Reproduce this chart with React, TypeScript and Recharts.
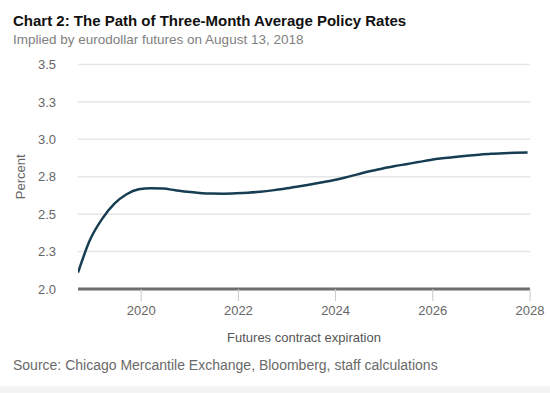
import React from "react";
import { LineChart, Line, XAxis, YAxis, CartesianGrid, Label } from "recharts";

// contract expiration (decimal year)
const expiry = [
  2018.7, 2018.95, 2019.2, 2019.45, 2019.7, 2019.95, 2020.2, 2020.45, 2020.7, 2020.95,
  2021.2, 2021.45, 2021.7, 2021.95, 2022.2, 2022.45, 2022.7, 2022.95, 2023.2, 2023.45,
  2023.7, 2023.95, 2024.2, 2024.45, 2024.7, 2024.95, 2025.2, 2025.45, 2025.7, 2025.95,
  2026.2, 2026.45, 2026.7, 2026.95, 2027.2, 2027.45, 2027.7, 2027.95,
];

// implied three-month policy rate, percent
const rate = [
  2.11, 2.33, 2.47, 2.57, 2.633, 2.666, 2.674, 2.671, 2.66, 2.649,
  2.642, 2.638, 2.637, 2.639, 2.643, 2.65, 2.659, 2.67, 2.683, 2.697,
  2.712, 2.727, 2.745, 2.766, 2.787, 2.804, 2.82, 2.834, 2.848, 2.862,
  2.873, 2.882, 2.89, 2.897, 2.903, 2.907, 2.91, 2.912,
];

const xTicks = [2020, 2022, 2024, 2026, 2028];
const yTicks = [2, 2.25, 2.5, 2.75, 3, 3.25, 3.5];

const data = expiry.map((x, i) => ({ x, rate: rate[i] }));

const font = "Arial, 'Liberation Sans', sans-serif";

export default function App() {
  return (
    <div
      style={{
        position: "fixed",
        left: 0,
        top: 0,
        width: 550,
        height: 393,
        background: "#fff",
        fontFamily: font,
        overflow: "hidden",
      }}
    >
      <div style={{ position: "absolute", left: 13, top: 12, fontSize: 15, fontWeight: "bold", color: "#111" }}>
        Chart 2: The Path of Three-Month Average Policy Rates
      </div>
      <div style={{ position: "absolute", left: 13, top: 32, fontSize: 13.5, color: "#808080" }}>
        Implied by eurodollar futures on August 13, 2018
      </div>

      <LineChart
        width={550}
        height={393}
        data={data}
        margin={{ top: 64.5, right: 20, bottom: 74, left: 0 }}
        style={{ position: "absolute", left: 0, top: 0 }}
      >
        <CartesianGrid vertical={false} stroke="#e6e6e6" strokeWidth={1.5} />
        <XAxis
          dataKey="x"
          type="number"
          domain={[2018.7, 2028]}
          ticks={xTicks}
          allowDataOverflow
          height={30}
          stroke="#c8c8c8"
          axisLine={{ stroke: "#6e6e6e", strokeWidth: 3 }}
          tickLine={{ stroke: "#c8c8c8", strokeWidth: 1 }}
          tickSize={12}
          tick={{ fill: "#666", fontSize: 13, fontFamily: font, dy: 3 }}
        >
          <Label
            value="Futures contract expiration"
            position="insideBottom"
            offset={-23}
            style={{ fill: "#555", fontSize: 13, fontFamily: font }}
          />
        </XAxis>
        <YAxis
          type="number"
          domain={[2, 3.5]}
          ticks={yTicks}
          width={78}
          axisLine={false}
          tickLine={false}
          tickMargin={16}
          tickFormatter={(v: number) => v.toFixed(1)}
          tick={{ fill: "#666", fontSize: 13, fontFamily: font }}
        >
          <Label
            value="Percent"
            angle={-90}
            position="insideLeft"
            offset={20}
            style={{ fill: "#666", fontSize: 13, fontFamily: font, textAnchor: "middle" }}
          />
        </YAxis>
        <Line
          type="monotone"
          dataKey="rate"
          stroke="#173d52"
          strokeWidth={2.5}
          dot={false}
          isAnimationActive={false}
        />
      </LineChart>

      <div style={{ position: "absolute", left: 13, top: 357, fontSize: 14, color: "#6a6a6a" }}>
        Source: Chicago Mercantile Exchange, Bloomberg, staff calculations
      </div>
      <div style={{ position: "absolute", left: 0, top: 386, width: 550, height: 7, background: "#f3f3f3" }} />
    </div>
  );
}
